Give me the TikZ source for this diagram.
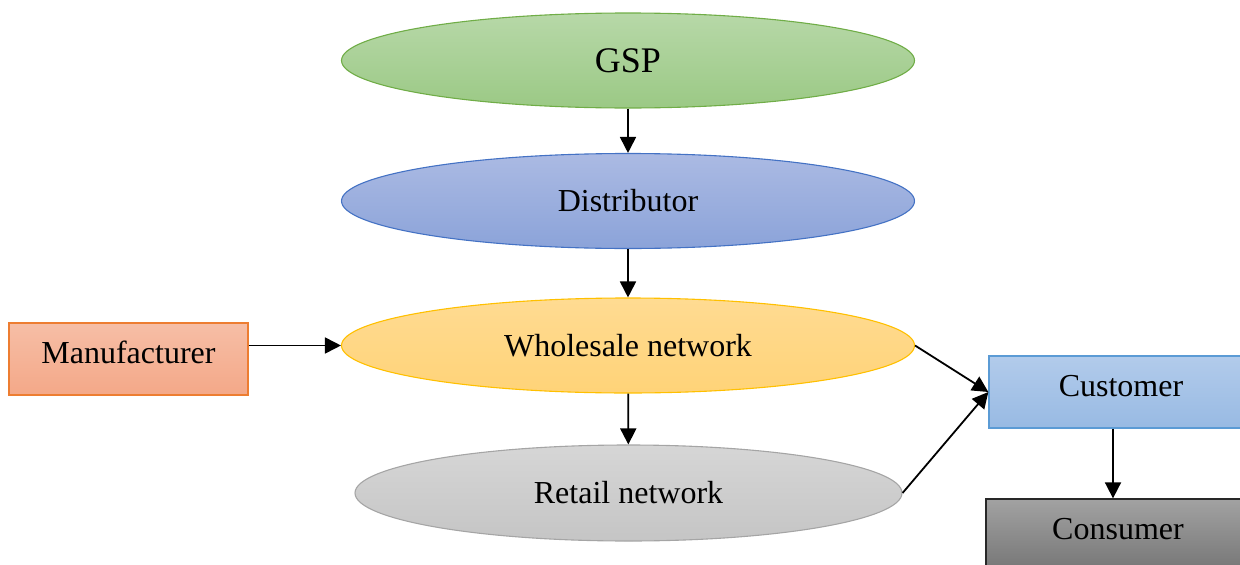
\documentclass[tikz,border=0pt]{standalone}
\usepackage{fontspec}
\setmainfont{Liberation Serif}
\usetikzlibrary{shapes.geometric,arrows.meta}
\tikzset{
  oval/.style={ellipse, inner sep=0pt, minimum width=573pt, minimum height=95pt, line width=1.1pt,
    font=\fontsize{32}{36}\selectfont},
  boxnode/.style={rectangle, inner sep=0pt, minimum width=239pt, minimum height=72pt, line width=1.3pt,
    text height=22pt, text depth=13pt, font=\fontsize{32}{36}\selectfont},
  link/.style={line width=1.8pt, -{Triangle[length=16pt,width=16pt]}}
}
\definecolor{gspB}{HTML}{70AD47}
\definecolor{disB}{HTML}{4472C4}
\definecolor{whoB}{HTML}{FFC000}
\definecolor{retB}{HTML}{A5A5A5}
\definecolor{manB}{HTML}{ED7D31}
\definecolor{cusB}{HTML}{5B9BD5}
\begin{document}
\begin{tikzpicture}[x=1pt,y=-1pt]
\useasboundingbox (0,0) rectangle (1240,565);
\clip (0,0) rectangle (1240,565);
\node[oval, draw=gspB, top color={rgb,255:red,183;green,216;blue,168}, bottom color={rgb,255:red,155;green,201;blue,133},
  font=\fontsize{36}{40}\selectfont] (gsp) at (628,60.5) {GSP};
\node[oval, draw=disB, top color={rgb,255:red,171;green,186;blue,227}, bottom color={rgb,255:red,139;green,163;blue,217}] (dis) at (628,201) {Distributor};
\node[oval, draw=whoB, top color={rgb,255:red,255;green,219;blue,146}, bottom color={rgb,255:red,255;green,211;blue,120}] (who) at (628,345.5) {Wholesale network};
\node[oval, draw=retB, minimum width=547pt, minimum height=96pt, top color={rgb,255:red,214;green,214;blue,214}, bottom color={rgb,255:red,197;green,197;blue,197}] (ret) at (628.5,493) {Retail network};
\node[boxnode, draw=manB, top color={rgb,255:red,246;green,190;blue,166}, bottom color={rgb,255:red,244;green,168;blue,136}] (man) at (128.5,359) {Manufacturer};
\node[boxnode, draw=cusB, minimum width=264pt, top color={rgb,255:red,178;green,203;blue,235}, bottom color={rgb,255:red,152;green,186;blue,227}] (cus) at (1121,392) {Customer};
\node[boxnode, draw={rgb,255:red,40;green,40;blue,40}, minimum width=264pt, top color={rgb,255:red,162;green,162;blue,162}, bottom color={rgb,255:red,118;green,118;blue,118}] (con) at (1118,535) {Consumer};
\draw[link] (gsp) -- (dis);
\draw[link] (dis) -- (who);
\draw[link] (who) -- (ret);
\draw[link] (who.west -| man.east) -- (who.west);
\draw[link] (who.east) -- (cus.west);
\draw[link] (ret.east) -- (cus.west);
\draw[link] (cus.south -| con.north) ++(-5,0) coordinate (cs) (cs) -- (cs |- con.north);
\end{tikzpicture}
\end{document}
